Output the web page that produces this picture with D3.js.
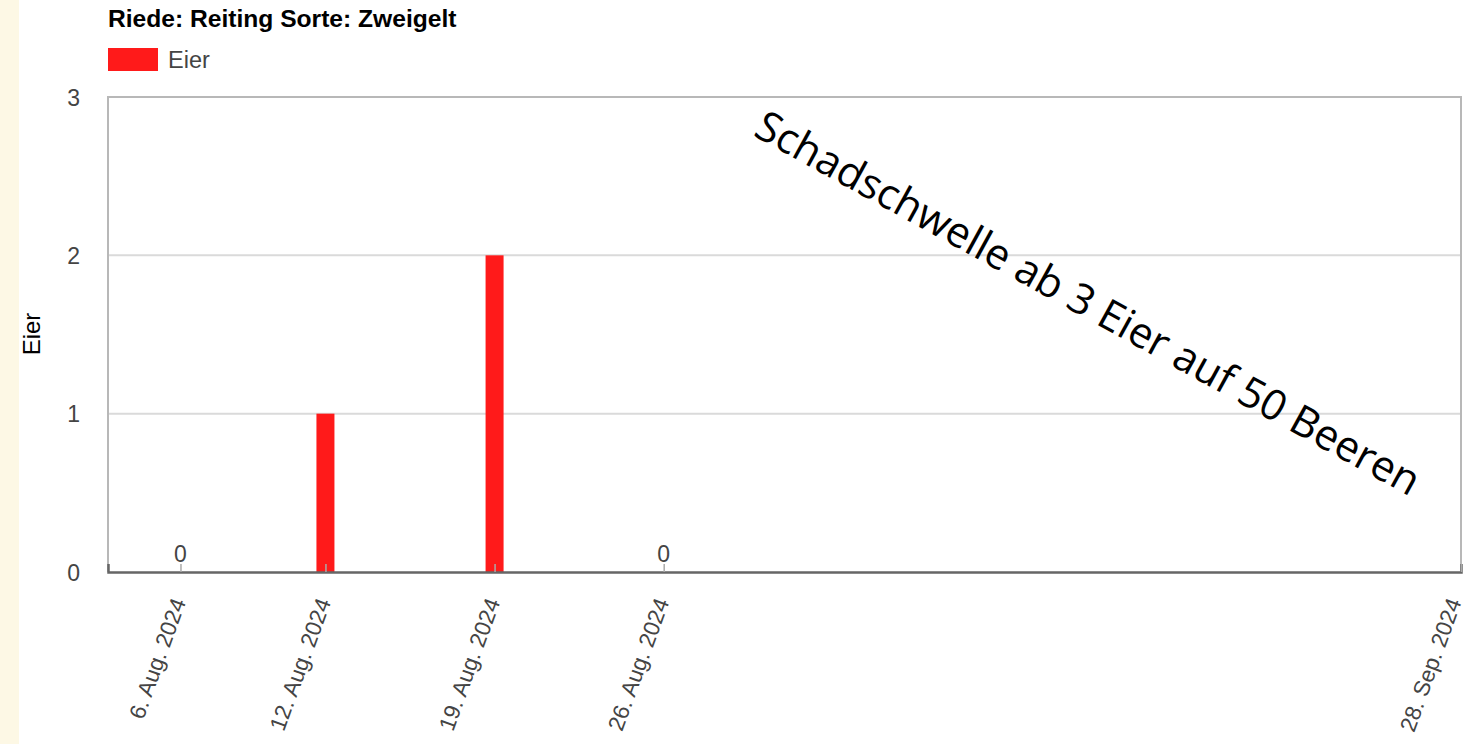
<!DOCTYPE html>
<html>
<head>
<meta charset="utf-8">
<script src="https://cdn.jsdelivr.net/npm/d3@7"></script>
<style>
  html, body { margin: 0; padding: 0; background: #fff; }
  svg { display: block; }
</style>
</head>
<body>
<svg width="1466" height="744"></svg>
<script>
// data
var dates = ["2024-08-06", "2024-08-12", "2024-08-19", "2024-08-26"];
var eier = [0, 1, 2, 0];
var tickDates = ["2024-08-06", "2024-08-12", "2024-08-19", "2024-08-26", "2024-09-28"];
var yTicks = [0, 1, 2, 3];
var title = "Riede: Reiting Sorte: Zweigelt";
var seriesName = "Eier";
var note = "Schadschwelle ab 3 Eier auf 50 Beeren";

var parse = d3.timeParse("%Y-%m-%d");
var fmtDe = function(d) {
  var m = ["Jan.", "Feb.", "März", "Apr.", "Mai", "Juni", "Juli", "Aug.", "Sep.", "Okt.", "Nov.", "Dez."];
  return d.getDate() + ". " + m[d.getMonth()] + " " + d.getFullYear();
};

var svg = d3.select("svg"),
    margin = {left: 108, right: 1461, top: 97, bottom: 572},
    red = "#ff1a1a";

var x = d3.scaleTime()
    .domain([parse("2024-08-03"), parse("2024-09-28")])
    .range([margin.left, margin.right]);

var y = d3.scaleLinear()
    .domain([0, 3])
    .range([margin.bottom, margin.top]);

// cream strip on the left
svg.append("rect")
    .attr("x", 0).attr("y", 0)
    .attr("width", 19).attr("height", 744)
    .attr("fill", "#fdf8e5");

// title + legend
svg.append("text")
    .attr("x", 108).attr("y", 27)
    .attr("font-family", "Liberation Sans, Arial, sans-serif")
    .attr("font-size", 24.6).attr("font-weight", "bold")
    .attr("fill", "#000")
    .text(title);

svg.append("rect")
    .attr("x", 108).attr("y", 48)
    .attr("width", 50).attr("height", 23)
    .attr("fill", red);

svg.append("text")
    .attr("x", 168).attr("y", 68)
    .attr("font-family", "Liberation Sans, Arial, sans-serif")
    .attr("font-size", 23.5)
    .attr("fill", "#444")
    .text(seriesName);

// gridlines
svg.append("g")
  .selectAll("line")
  .data(yTicks.filter(function(d) { return d > 0 && d < 3; }))
  .join("line")
    .attr("x1", margin.left).attr("x2", margin.right)
    .attr("y1", function(d) { return y(d); })
    .attr("y2", function(d) { return y(d); })
    .attr("stroke", "#dadada").attr("stroke-width", 2);

// frame
svg.append("path")
    .attr("d", "M" + margin.left + "," + margin.bottom + "V" + margin.top + "H" + margin.right + "V" + margin.bottom)
    .attr("fill", "none")
    .attr("stroke", "#b8b8b8").attr("stroke-width", 2);

// y axis
var yAxis = svg.append("g")
    .attr("transform", "translate(" + (margin.left - 25) + ",0)")
    .call(d3.axisLeft(y).tickValues(yTicks).tickSize(0).tickFormat(d3.format("d")));
yAxis.select(".domain").remove();
yAxis.selectAll("text")
    .attr("font-family", "Liberation Sans, Arial, sans-serif")
    .attr("font-size", 23)
    .attr("fill", "#444")
    .attr("dy", "0.35em");

svg.append("text")
    .attr("transform", "translate(40,334) rotate(-90)")
    .attr("text-anchor", "middle")
    .attr("font-family", "Liberation Sans, Arial, sans-serif")
    .attr("font-size", 24)
    .attr("fill", "#000")
    .text("Eier");

// bars
var bw = 18;
svg.append("g")
  .selectAll("rect")
  .data(dates.map(function(d, i) { return {date: parse(d), v: eier[i]}; }))
  .join("rect")
    .attr("x", function(d) { return x(d.date) - bw / 2; })
    .attr("y", function(d) { return y(d.v); })
    .attr("width", bw)
    .attr("height", function(d) { return y(0) - y(d.v); })
    .attr("fill", red);

// value labels for zero bars
svg.append("g")
  .selectAll("text")
  .data(dates.map(function(d, i) { return {date: parse(d), v: eier[i]}; }).filter(function(d) { return d.v === 0; }))
  .join("text")
    .attr("x", function(d) { return x(d.date); })
    .attr("y", y(0) - 10)
    .attr("text-anchor", "middle")
    .attr("font-family", "Liberation Sans, Arial, sans-serif")
    .attr("font-size", 23)
    .attr("fill", "#444")
    .text(function(d) { return d.v; });

// x axis
var xAxis = svg.append("g")
    .attr("transform", "translate(0," + margin.bottom + ")")
    .call(d3.axisBottom(x).tickValues(tickDates.map(parse)).tickSize(-8).tickFormat(fmtDe));
xAxis.select(".domain")
    .attr("stroke", "#666").attr("stroke-width", 2.5);
xAxis.selectAll(".tick line")
    .attr("stroke", "#aaa").attr("stroke-width", 1.5);
xAxis.selectAll("text")
    .attr("font-family", "Liberation Sans, Arial, sans-serif")
    .attr("font-size", 22.5)
    .attr("fill", "#444")
    .attr("text-anchor", "end")
    .attr("transform", function(d, i) {
      // last label sits at the right edge, nudge it in a little
      return "translate(" + (i === tickDates.length - 1 ? -7 : -2) + ",27) rotate(-70)";
    })
    .attr("y", 0).attr("dy", "0.35em");

// annotation
var ann = svg.append("text")
    .attr("transform", "translate(752,135) rotate(28.8)")
    .attr("font-family", "Open Sans, sans-serif")
    .attr("font-size", 40)
    .attr("fill", "#000")
    .text(note);
var len = ann.node().getComputedTextLength();
ann.attr("font-size", 40 * 751 / len);
</script>
</body>
</html>
